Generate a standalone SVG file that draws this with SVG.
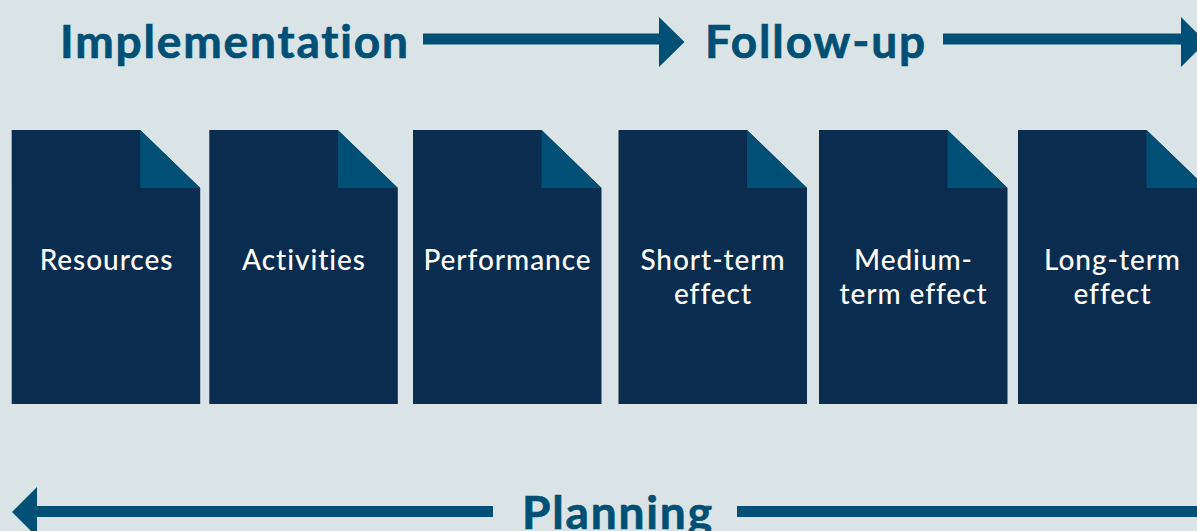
<svg xmlns="http://www.w3.org/2000/svg" width="1197" height="531" viewBox="0 0 1197 531">
<style>
.h{font-family:"Lato","Liberation Sans",sans-serif;font-weight:700;font-size:46px;letter-spacing:1.850px;font-variant-ligatures:none;fill:#005075;stroke:#005075;stroke-width:.7px}
.t{font-family:"Lato","Liberation Sans",sans-serif;font-weight:500;font-size:28px;letter-spacing:.95px;font-variant-ligatures:none;fill:#fff;text-anchor:middle}
.d{fill:#0a2c4e}
.f{fill:#005075}
.c{fill:#005075}
</style>
<defs>
<g id="doc"><path class="d" d="M0 0H128.500L188.500 58V274H0Z"/><path class="f" d="M128.500 0L188.500 58H128.500Z"/></g>
</defs>
<rect width="1197" height="531" fill="#dae3e6"/>
<g id="connectors">
<path class="c" d="M423 33.500H659V17L684.500 42L659 67V44.500H423Z"/>
<path class="c" d="M943 33.500H1181V17L1206 42L1181 67V44.500H943Z"/>
<path class="c" d="M493 506H37V487L12 512L37 537V517H493Z"/>
<rect class="c" x="737" y="506" width="460" height="11"/>
</g>
<g id="label-implementation"><text class="h" x="60" y="57.500">Implementation</text></g>
<g id="label-followup"><text class="h" x="705" y="57.500">Follow-up</text></g>
<g id="label-planning"><text class="h" x="522" y="528.500">Planning</text></g>
<g id="node-resources"><use href="#doc" x="11.700" y="130"/><text class="t" x="106.500" y="270">Resources</text></g>
<g id="node-activities"><use href="#doc" x="209.300" y="130"/><text class="t" x="304" y="270">Activities</text></g>
<g id="node-performance"><use href="#doc" x="413" y="130"/><text class="t" x="507.500" y="270">Performance</text></g>
<g id="node-short-term"><use href="#doc" x="618.500" y="130"/><text class="t" x="713" y="270">Short-term</text><text class="t" x="713" y="304">effect</text></g>
<g id="node-medium-term"><use href="#doc" x="819" y="130"/><text class="t" x="913.500" y="270">Medium-</text><text class="t" x="913.500" y="304">term effect</text></g>
<g id="node-long-term"><use href="#doc" x="1018" y="130"/><text class="t" x="1112.500" y="270">Long-term</text><text class="t" x="1112.500" y="304">effect</text></g>
</svg>
